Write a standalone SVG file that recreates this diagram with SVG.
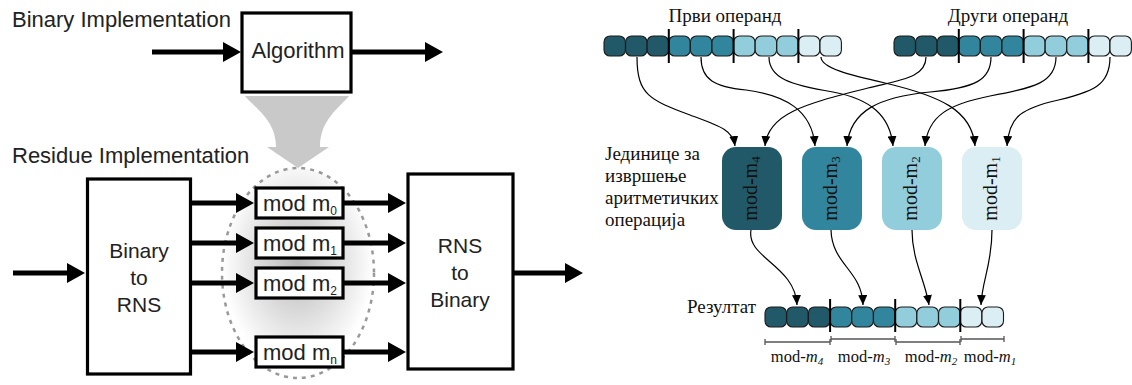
<svg xmlns="http://www.w3.org/2000/svg" width="1132" height="385" viewBox="0 0 1132 385">
<defs>
<style>
.lt{font-family:"Liberation Sans",Arial,sans-serif;fill:#222;}
.box{fill:#fff;stroke:#000;stroke-width:3.2;}
.thick{stroke:#000;stroke-width:5;fill:none;marker-end:url(#bigArrow);}
.serif{font-family:"Liberation Serif","DejaVu Serif",serif;fill:#111;}
.cell{stroke:#1a1a1a;stroke-width:1.1;}
.c1{fill:#215968}.c2{fill:#31859c}.c3{fill:#92cddc}.c4{fill:#daeef3}
.sep{stroke:#000;stroke-width:2;}
.conn{fill:none;stroke:#000;stroke-width:1.2;marker-end:url(#smallArrow);}
.brk{stroke:#555;stroke-width:1.3;fill:none;}
</style>
<marker id="bigArrow" markerUnits="userSpaceOnUse" markerWidth="18" markerHeight="20" refX="8" refY="10" orient="auto" viewBox="0 0 18 20"><path d="M0,0 L18,10 L0,20 z" fill="#000"/></marker>
<marker id="smallArrow" markerUnits="userSpaceOnUse" markerWidth="10" markerHeight="9" refX="10" refY="4.5" orient="auto" viewBox="0 0 10 9"><path d="M0,0 L10,4.5 L0,9 z" fill="#000"/></marker>
<radialGradient id="glow" cx="0.5" cy="0.45" r="0.5"><stop offset="0" stop-color="#b8b8b8"/><stop offset="1" stop-color="#ffffff"/></radialGradient>
</defs>
<rect width="1132" height="385" fill="#fff"/>

<!-- Left panel -->
<text class="lt" x="12" y="27" font-size="22">Binary Implementation</text>
<text class="lt" x="12" y="163" font-size="22">Residue Implementation</text>
<path id="funnel" d="M245,96 L349,96 C339,108 320,120 320,147 L329,147 L298,168 L267,147 L276,147 C276,120 255,108 245,96 Z" fill="#c9c9c9"/>
<ellipse id="residue-group" cx="298" cy="273" rx="76" ry="105" fill="url(#glow)" stroke="#999" stroke-width="2.5" stroke-dasharray="4 5"/>

<g id="algorithm">
<rect class="box" x="242" y="13" width="109" height="79"/>
<text class="lt" x="298" y="58" font-size="22" text-anchor="middle">Algorithm</text>
</g>
<g id="binary-to-rns">
<rect class="box" x="87.5" y="179" width="103" height="195"/>
<text class="lt" x="139" y="258" font-size="21" text-anchor="middle">Binary</text>
<text class="lt" x="139" y="285" font-size="21" text-anchor="middle">to</text>
<text class="lt" x="139" y="312" font-size="21" text-anchor="middle">RNS</text>
</g>
<g id="rns-to-binary">
<rect class="box" x="408" y="174" width="105" height="195"/>
<text class="lt" x="460" y="253" font-size="21" text-anchor="middle">RNS</text>
<text class="lt" x="460" y="280" font-size="21" text-anchor="middle">to</text>
<text class="lt" x="460" y="307" font-size="21" text-anchor="middle">Binary</text>
</g>
<g id="mod-m0">
<rect class="box" x="256" y="188" width="87" height="30"/>
<text class="lt" x="300" y="210.5" font-size="22" text-anchor="middle">mod m<tspan font-size="12" dy="4">0</tspan></text>
</g>
<g id="mod-m1">
<rect class="box" x="256" y="228" width="87" height="30"/>
<text class="lt" x="300" y="250.5" font-size="22" text-anchor="middle">mod m<tspan font-size="12" dy="4">1</tspan></text>
</g>
<g id="mod-m2">
<rect class="box" x="256" y="268" width="87" height="30"/>
<text class="lt" x="300" y="290.5" font-size="22" text-anchor="middle">mod m<tspan font-size="12" dy="4">2</tspan></text>
</g>
<g id="mod-mn">
<rect class="box" x="256" y="337" width="87" height="30"/>
<text class="lt" x="300" y="359.5" font-size="22" text-anchor="middle">mod m<tspan font-size="12" dy="4">n</tspan></text>
</g>

<g id="left-connectors">
<line class="thick" x1="152" y1="52" x2="231" y2="52"/>
<line class="thick" x1="352" y1="52" x2="433" y2="52"/>
<line class="thick" x1="13" y1="273" x2="75" y2="273"/>
<line class="thick" x1="192" y1="203" x2="244" y2="203"/>
<line class="thick" x1="192" y1="243" x2="244" y2="243"/>
<line class="thick" x1="192" y1="283" x2="244" y2="283"/>
<line class="thick" x1="192" y1="352" x2="244" y2="352"/>
<line class="thick" x1="344" y1="203" x2="396" y2="203"/>
<line class="thick" x1="344" y1="243" x2="396" y2="243"/>
<line class="thick" x1="344" y1="283" x2="396" y2="283"/>
<line class="thick" x1="344" y1="352" x2="396" y2="352"/>
<line class="thick" x1="514" y1="273" x2="573" y2="273"/>
</g>

<!-- Right panel -->
<text class="serif" x="725" y="22" font-size="19" text-anchor="middle">Први операнд</text>
<text class="serif" x="1008" y="22" font-size="19" text-anchor="middle">Други операнд</text>

<g id="operand1">
<rect class="cell c1" x="604" y="36" width="21.4" height="20" rx="6"/>
<rect class="cell c1" x="625.6" y="36" width="21.4" height="20" rx="6"/>
<rect class="cell c1" x="647.2" y="36" width="21.4" height="20" rx="6"/>
<rect class="cell c2" x="668.8" y="36" width="21.4" height="20" rx="6"/>
<rect class="cell c2" x="690.4" y="36" width="21.4" height="20" rx="6"/>
<rect class="cell c2" x="712" y="36" width="21.4" height="20" rx="6"/>
<rect class="cell c3" x="733.6" y="36" width="21.4" height="20" rx="6"/>
<rect class="cell c3" x="755.2" y="36" width="21.4" height="20" rx="6"/>
<rect class="cell c3" x="776.8" y="36" width="21.4" height="20" rx="6"/>
<rect class="cell c4" x="798.4" y="36" width="21.4" height="20" rx="6"/>
<rect class="cell c4" x="820" y="36" width="21.4" height="20" rx="6"/>
<line class="sep" x1="668.8" y1="29" x2="668.8" y2="63"/>
<line class="sep" x1="733.6" y1="29" x2="733.6" y2="63"/>
<line class="sep" x1="798.4" y1="29" x2="798.4" y2="63"/>
</g>

<g id="operand2">
<rect class="cell c1" x="894" y="36" width="21.4" height="20" rx="6"/>
<rect class="cell c1" x="915.6" y="36" width="21.4" height="20" rx="6"/>
<rect class="cell c1" x="937.2" y="36" width="21.4" height="20" rx="6"/>
<rect class="cell c2" x="958.8" y="36" width="21.4" height="20" rx="6"/>
<rect class="cell c2" x="980.4" y="36" width="21.4" height="20" rx="6"/>
<rect class="cell c2" x="1002" y="36" width="21.4" height="20" rx="6"/>
<rect class="cell c3" x="1023.6" y="36" width="21.4" height="20" rx="6"/>
<rect class="cell c3" x="1045.2" y="36" width="21.4" height="20" rx="6"/>
<rect class="cell c3" x="1066.8" y="36" width="21.4" height="20" rx="6"/>
<rect class="cell c4" x="1088.4" y="36" width="21.4" height="20" rx="6"/>
<rect class="cell c4" x="1110" y="36" width="21.4" height="20" rx="6"/>
<line class="sep" x1="958.8" y1="29" x2="958.8" y2="63"/>
<line class="sep" x1="1023.6" y1="29" x2="1023.6" y2="63"/>
<line class="sep" x1="1088.4" y1="29" x2="1088.4" y2="63"/>
</g>

<text class="serif" font-size="19">
<tspan x="605" y="160">Јединице за</tspan>
<tspan x="605" y="182">извршење</tspan>
<tspan x="605" y="204">аритметичких</tspan>
<tspan x="605" y="226">операција</tspan>
</text>

<g id="unit-m4">
<rect class="c1" x="722" y="147" width="60" height="83" rx="14"/>
<text class="serif" font-size="20" text-anchor="middle" transform="translate(752,188.5) rotate(-90)" y="5">mod-m<tspan font-size="13" dy="3">4</tspan></text>
</g>
<g id="unit-m3">
<rect class="c2" x="802" y="147" width="60" height="83" rx="14"/>
<text class="serif" font-size="20" text-anchor="middle" transform="translate(832,188.5) rotate(-90)" y="5">mod-m<tspan font-size="13" dy="3">3</tspan></text>
</g>
<g id="unit-m2">
<rect class="c3" x="882" y="147" width="60" height="83" rx="14"/>
<text class="serif" font-size="20" text-anchor="middle" transform="translate(912,188.5) rotate(-90)" y="5">mod-m<tspan font-size="13" dy="3">2</tspan></text>
</g>
<g id="unit-m1">
<rect class="c4" x="962" y="147" width="60" height="83" rx="14"/>
<text class="serif" font-size="20" text-anchor="middle" transform="translate(992,188.5) rotate(-90)" y="5">mod-m<tspan font-size="13" dy="3">1</tspan></text>
</g>

<text class="serif" x="687" y="313" font-size="19">Резултат</text>
<g id="result">
<rect class="cell c1" x="765" y="307" width="21.5" height="20" rx="6"/>
<rect class="cell c1" x="786.7" y="307" width="21.5" height="20" rx="6"/>
<rect class="cell c1" x="808.4" y="307" width="21.5" height="20" rx="6"/>
<rect class="cell c2" x="830.1" y="307" width="21.5" height="20" rx="6"/>
<rect class="cell c2" x="851.8" y="307" width="21.5" height="20" rx="6"/>
<rect class="cell c2" x="873.5" y="307" width="21.5" height="20" rx="6"/>
<rect class="cell c3" x="895.2" y="307" width="21.5" height="20" rx="6"/>
<rect class="cell c3" x="916.9" y="307" width="21.5" height="20" rx="6"/>
<rect class="cell c3" x="938.6" y="307" width="21.5" height="20" rx="6"/>
<rect class="cell c4" x="960.3" y="307" width="21.5" height="20" rx="6"/>
<rect class="cell c4" x="982" y="307" width="21.5" height="20" rx="6"/>
<line class="sep" x1="830.1" y1="299" x2="830.1" y2="332"/>
<line class="sep" x1="895.2" y1="299" x2="895.2" y2="332"/>
<line class="sep" x1="960.3" y1="299" x2="960.3" y2="332"/>
</g>

<g id="brackets">
<path class="brk" d="M765,342 H830 M765,339 V345 M830,339 V345"/>
<path class="brk" d="M831,339 H895 M831,336 V342 M895,336 V342"/>
<path class="brk" d="M896,342 H960 M896,339 V345 M960,339 V345"/>
<path class="brk" d="M961,339 H1004 M961,336 V342 M1004,336 V342"/>
<text class="serif" x="797" y="362" font-size="16.5" text-anchor="middle">mod-<tspan font-style="italic">m</tspan><tspan font-style="italic" font-size="11" dy="3">4</tspan></text>
<text class="serif" x="864" y="362" font-size="16.5" text-anchor="middle">mod-<tspan font-style="italic">m</tspan><tspan font-style="italic" font-size="11" dy="3">3</tspan></text>
<text class="serif" x="931" y="362" font-size="16.5" text-anchor="middle">mod-<tspan font-style="italic">m</tspan><tspan font-style="italic" font-size="11" dy="3">2</tspan></text>
<text class="serif" x="990" y="362" font-size="16.5" text-anchor="middle">mod-<tspan font-style="italic">m</tspan><tspan font-style="italic" font-size="11" dy="3">1</tspan></text>
</g>

<g id="right-connectors">
<path class="conn" d="M637,57 C637,95 650,100 690,115 C720,126 733,130 735,146"/>
<path class="conn" d="M701,57 C701,80 715,87 746,90 C785,95 812,110 815,146"/>
<path class="conn" d="M769,57 C769,78 790,85 833,92 C870,99 890,115 893,146"/>
<path class="conn" d="M821,57 C821,68 850,75 885,83 C940,96 972,110 975,146"/>
<path class="conn" d="M926,57 C926,78 900,80 868,88 C810,103 768,112 765,146"/>
<path class="conn" d="M991,57 C991,80 975,88 930,92 C880,97 850,110 847,146"/>
<path class="conn" d="M1056,57 C1056,82 1035,88 990,96 C950,104 928,115 925,146"/>
<path class="conn" d="M1110,57 C1110,85 1095,92 1050,102 C1020,110 1009,118 1007,146"/>
<path class="conn" d="M751,230 C746,258 795,265 797,305"/>
<path class="conn" d="M831,230 C832,265 862,270 863,305"/>
<path class="conn" d="M912,230 C912,260 925,280 929,305"/>
<path class="conn" d="M992,230 C992,265 982,280 981,305"/>
</g>
</svg>
